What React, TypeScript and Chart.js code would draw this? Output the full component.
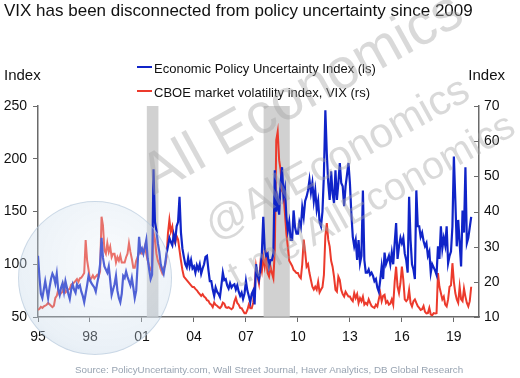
import React, { useEffect, useRef } from "react";
import { Chart, registerables } from "chart.js";

Chart.register(...registerables);

// Monthly data, Jan 1995 .. Jan 2020
const startYear = 1995;

const epu = [
  108, 88, 72, 68, 76, 84, 76, 68, 78, 86, 91, 88,
  82, 91, 76, 71, 78, 82, 74, 84, 78, 72, 67, 76,
  81, 76, 73, 81, 78, 80, 74, 70, 64, 72, 80, 89,
  85, 82, 80, 78, 74, 82, 89, 100, 125, 106, 98, 95,
  92, 98, 85, 71, 76, 81, 89, 75, 68, 64, 72, 89,
  87, 93, 88, 84, 80, 87, 78, 68, 75, 100, 126, 112,
  115, 110, 116, 123, 105, 95, 86, 90, 190, 140, 132, 120,
  112, 100, 95, 91, 100, 110, 117, 125, 121, 118, 128, 122,
  136, 140, 164, 130, 115, 107, 100, 97, 106, 98, 104, 96,
  98, 92, 99, 95, 100, 91, 96, 100, 107, 108, 95, 84,
  84, 76, 70, 78, 74, 72, 69, 80, 92, 85, 86, 80,
  77, 82, 78, 80, 81, 76, 80, 74, 70, 73, 67, 72,
  84, 75, 70, 64, 72, 75, 62, 100, 90, 85, 95, 110,
  145, 114, 108, 110, 98, 104, 104, 110, 189, 150, 161, 147,
  177, 192, 165, 172, 145, 132, 140, 123, 123, 151, 135, 129,
  129, 140, 135, 154, 145, 160, 164, 170, 180, 168, 177, 160,
  170, 152, 160, 140, 136, 150, 185, 246, 205, 177, 161, 188,
  167, 158, 189, 161, 177, 196, 177, 174, 155, 174, 185, 196,
  177, 148, 126, 117, 123, 104, 123, 101, 108, 170, 104, 92,
  92, 95, 90, 92, 89, 84, 86, 78, 74, 85, 98, 86,
  111, 100, 104, 108, 100, 111, 100, 120, 139, 105, 117, 125,
  120, 125, 110, 104, 92, 164, 123, 100, 95, 86, 170, 136,
  136, 126, 130, 122, 117, 120, 108, 112, 92, 100, 97, 94,
  90, 117, 105, 136, 115, 125, 118, 136, 101, 108, 112, 136,
  202, 161, 117, 142, 120, 98, 151, 130, 192, 120, 125, 135,
  145,
];

const vix = [
  12.0, 12.3, 12.9, 12.6, 13.0, 13.2, 13.5, 14.0, 13.6, 13.2, 12.8, 13.2,
  15.4, 16.0, 17.7, 16.3, 16.8, 17.2, 19.0, 17.0, 17.4, 17.8, 18.0, 19.2,
  19.5, 19.8, 20.3, 20.8, 20.0, 21.0, 21.2, 21.8, 22.5, 31.9, 26.2, 23.5,
  20.5, 21.0, 21.8, 21.0, 21.5, 22.0, 21.5, 23.0, 38.5, 36.0, 29.0, 28.0,
  31.0, 28.5, 30.0, 27.0, 28.0, 28.0, 25.5, 27.0, 26.0, 27.5, 25.5, 25.5,
  25.5, 27.0, 28.0, 31.0, 28.5, 26.5, 24.0, 24.0, 26.0, 27.0, 28.5, 28.5,
  28.0, 28.5, 30.0, 28.0, 26.0, 24.5, 23.5, 24.0, 34.0, 32.0, 28.0, 26.0,
  25.0, 23.5, 22.5, 24.0, 24.5, 27.0, 33.8, 37.6, 34.3, 35.7, 32.0, 31.0,
  33.0, 32.0, 29.0, 26.0, 23.4, 21.5, 21.0, 20.5, 20.0, 19.5, 19.0, 18.5,
  18.5, 18.0, 17.6, 17.0, 16.5, 16.0, 16.5, 15.8, 15.5, 14.8, 14.6, 13.8,
  13.5, 12.8, 14.1, 13.5, 13.2, 12.8, 12.5, 13.0, 14.1, 13.8, 12.8, 12.6,
  12.8, 12.5, 12.2, 12.6, 14.4, 15.5, 14.0, 13.5, 12.6, 12.5, 11.8, 11.1,
  11.1, 12.0, 13.5, 12.5, 12.5, 14.0, 18.6, 24.3, 21.5, 19.5, 25.0, 23.0,
  27.1, 24.3, 27.0, 22.5, 21.5, 24.3, 22.5, 21.0, 29.0, 60.3, 62.7, 54.6,
  51.9, 46.0, 45.0, 39.5, 33.8, 30.0, 26.0, 25.3, 24.5, 23.4, 23.0, 22.5,
  22.5, 21.5, 21.0, 25.0, 32.0, 28.5, 24.3, 25.0, 22.5, 20.5, 18.6, 17.8,
  18.6, 17.8, 20.0, 17.0, 17.8, 18.5, 22.0, 33.0, 36.7, 32.0, 30.0, 26.0,
  24.3, 21.5, 17.7, 17.2, 21.5, 20.5, 17.7, 16.5, 15.8, 17.2, 16.5, 15.8,
  15.8, 15.0, 14.5, 16.8, 15.4, 16.5, 14.0, 15.4, 14.5, 15.8, 13.5, 14.0,
  13.5, 15.0, 14.0, 13.1, 12.8, 12.6, 13.5, 13.0, 15.0, 16.8, 14.5, 16.0,
  16.3, 14.0, 14.5, 13.5, 13.8, 15.0, 13.5, 20.0, 24.3, 18.6, 16.8, 19.6,
  24.3, 20.5, 15.0, 14.5, 15.0, 17.7, 14.0, 13.0, 14.5, 15.0, 14.0, 13.1,
  12.6, 12.0, 12.2, 13.1, 11.5, 11.0, 11.1, 12.6, 10.7, 10.5, 11.1, 11.0,
  11.1, 22.5, 18.6, 16.8, 15.0, 15.8, 13.5, 13.0, 15.0, 18.6, 19.0, 25.3,
  20.0, 16.8, 15.0, 14.0, 18.6, 15.0, 14.5, 18.1, 15.8, 14.0, 13.0, 14.5,
  18.6,
];

const xTickYears = [1995, 1998, 2001, 2004, 2007, 2010, 2013, 2016, 2019];
const leftTicks = [50, 100, 150, 200, 250];
const rightTicks = [10, 20, 30, 40, 50, 60, 70];
const recessionStart = [2001.28, 2008.02];
const recessionEnd = [2001.95, 2009.53];

const epuLabel = "Economic Policy Uncertainty Index (ls)";
const vixLabel = "CBOE market volatility index, VIX (rs)";
const titleText = "VIX has been disconnected from policy uncertainty since 2009";
const sourceText =
  "Source: PolicyUncertainty.com, Wall Street Journal, Haver Analytics, DB Global Research";

const FONT = "'Liberation Sans', Arial, Helvetica, sans-serif";
const BLUE = "#1024c8";
const RED = "#ec3a2c";
const AXIS = "#6a6a6a";

export default function App() {
  const ref = useRef<HTMLCanvasElement | null>(null);

  useEffect(() => {
    document.body.style.margin = "0";
    const canvas = ref.current;
    if (!canvas) return;
    const toPts = (arr: number[]) => arr.map((v, i) => ({ x: startYear + i / 12, y: v }));

    const bandPlugin = {
      id: "bands",
      beforeDatasetsDraw(chart: any) {
        const { ctx, chartArea, scales } = chart;
        ctx.save();
        ctx.fillStyle = "rgba(198,198,198,0.8)";
        recessionStart.forEach((s, i) => {
          const x0 = scales.x.getPixelForValue(s);
          const x1 = scales.x.getPixelForValue(recessionEnd[i]);
          ctx.fillRect(x0, chartArea.top, x1 - x0, chartArea.bottom - chartArea.top);
        });
        ctx.restore();
      },
      afterDraw(chart: any) {
        const { ctx, chartArea, scales } = chart;
        ctx.save();
        ctx.strokeStyle = AXIS;
        ctx.lineWidth = 1;
        rightTicks.forEach((t) => {
          const y = Math.round(scales.y2.getPixelForValue(t)) + 0.5;
          ctx.beginPath();
          ctx.moveTo(chartArea.right - 5, y);
          ctx.lineTo(chartArea.right, y);
          ctx.stroke();
        });
        ctx.restore();
      },
    };

    const chart = new Chart(canvas, {
      type: "line",
      data: {
        datasets: [
          {
            label: epuLabel,
            data: toPts(epu),
            yAxisID: "y",
            borderColor: BLUE,
            borderWidth: 2.2,
            pointRadius: 0,
            tension: 0,
          },
          {
            label: vixLabel,
            data: toPts(vix),
            yAxisID: "y2",
            borderColor: RED,
            borderWidth: 2,
            pointRadius: 0,
            tension: 0,
          },
        ],
      },
      options: {
        animation: false,
        responsive: false,
        events: [],
        layout: { padding: { top: 106, bottom: 31, left: 0, right: 0 } },
        plugins: {
          legend: { display: false },
          tooltip: { enabled: false },
          title: { display: false },
        },
        scales: {
          x: {
            type: "linear",
            min: 1995,
            max: 2020.45,
            afterBuildTicks: (s: any) => {
              s.ticks = xTickYears.map((v) => ({ value: v }));
            },
            afterFit: (s: any) => {
              s.height = 30;
            },
            grid: { drawOnChartArea: false, tickLength: 5, color: AXIS, lineWidth: 1 },
            border: { color: AXIS, width: 1.5 },
            ticks: {
              callback: (v: any) => String(Number(v) % 100).padStart(2, "0"),
              font: { family: FONT, size: 14 },
              color: "#111",
              padding: 7,
              maxRotation: 0,
              autoSkip: false,
            },
          },
          y: {
            position: "left",
            min: 50,
            max: 250,
            afterBuildTicks: (s: any) => {
              s.ticks = leftTicks.map((v) => ({ value: v }));
            },
            afterFit: (s: any) => {
              s.width = 38;
            },
            grid: { drawOnChartArea: false, tickLength: 5, color: AXIS, lineWidth: 1 },
            border: { color: AXIS, width: 1.5 },
            ticks: { font: { family: FONT, size: 14 }, color: "#111", padding: 6 },
          },
          y2: {
            position: "right",
            min: 10,
            max: 70,
            afterBuildTicks: (s: any) => {
              s.ticks = rightTicks.map((v) => ({ value: v }));
            },
            afterFit: (s: any) => {
              s.width = 41;
            },
            grid: { drawOnChartArea: false, drawTicks: false },
            border: { color: AXIS, width: 1.5 },
            ticks: { font: { family: FONT, size: 14 }, color: "#111", padding: 5 },
          },
        },
      } as any,
      plugins: [bandPlugin],
    });
    return () => chart.destroy();
  }, []);

  const abs = (s: React.CSSProperties): React.CSSProperties => ({
    position: "absolute",
    fontFamily: FONT,
    whiteSpace: "nowrap",
    ...s,
  });

  const wm = "rgba(165,165,165,0.42)";

  return (
    <div style={{ position: "relative", width: 520, height: 378, overflow: "hidden", background: "#fff" }}>
      <canvas ref={ref} width={520} height={378} style={{ position: "absolute", left: 0, top: 0, display: "block" }} />
      <div style={abs({ left: 4, top: 2, fontSize: 17, lineHeight: "17px", color: "#111" })}>{titleText}</div>
      <div style={abs({ left: 4, top: 67, fontSize: 15, lineHeight: "15px", color: "#111" })}>Index</div>
      <div style={abs({ right: 15, top: 67, fontSize: 15, lineHeight: "15px", color: "#111" })}>Index</div>
      <div style={abs({ left: 137, top: 66, width: 15, height: 2, background: BLUE })} />
      <div style={abs({ left: 154, top: 62, fontSize: 13, lineHeight: "13px", color: "#111" })}>{epuLabel}</div>
      <div style={abs({ left: 137, top: 90, width: 15, height: 2, background: RED })} />
      <div style={abs({ left: 154, top: 86, fontSize: 13, lineHeight: "13px", color: "#111" })}>{vixLabel}</div>
      <div style={abs({ left: 75, top: 365, fontSize: 9.8, lineHeight: "10px", color: "#98a4b2" })}>{sourceText}</div>

      {/* watermark */}
      <div
        style={abs({
          left: 18,
          top: 201,
          width: 152,
          height: 152,
          borderRadius: "50%",
          background:
            "radial-gradient(circle at 58% 38%, rgba(236,243,249,0.3) 0%, rgba(195,214,232,0.35) 70%, rgba(165,190,214,0.45) 100%)",
          border: "1px solid rgba(175,195,215,0.55)",
        })}
      />
      <div
        style={abs({
          left: 158,
          top: 146,
          fontSize: 57,
          lineHeight: "57px",
          color: wm,
          transform: "rotate(-29deg)",
          transformOrigin: "0% 100%",
        })}
      >
        All Economics
      </div>
      <div
        style={abs({
          left: 218,
          top: 205,
          fontSize: 42,
          lineHeight: "42px",
          color: wm,
          transform: "rotate(-29deg)",
          transformOrigin: "0% 100%",
        })}
      >
        @AllEconomics
      </div>
      <div
        style={abs({
          left: 240,
          top: 255,
          fontSize: 39,
          lineHeight: "39px",
          color: wm,
          transform: "rotate(-29deg)",
          transformOrigin: "0% 100%",
        })}
      >
        t.me/AllEconomics
      </div>
    </div>
  );
}
